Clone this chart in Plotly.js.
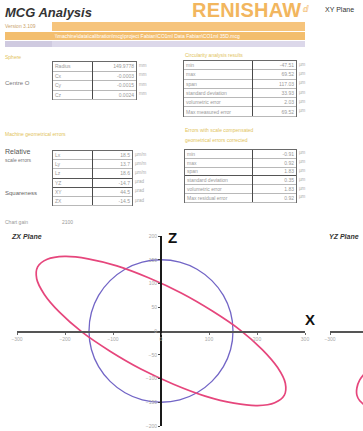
<!DOCTYPE html>
<html>
<head>
<meta charset="utf-8">
<script src="https://cdn.plot.ly/plotly-3.0.1.min.js"></script>
<style>
  html, body { margin: 0; padding: 0; background: #fff; overflow: hidden; width: 363px; height: 431px; }
  body { position: relative; font-family: "Liberation Sans", Arial, sans-serif; }
  .abs { position: absolute; white-space: nowrap; }
  .sec { font-size: 5px; color: #e2c35a; }
  .tbl { position: absolute; border: 1px solid #6a6a6a; box-sizing: border-box; background: #fff; }
  .row { position: absolute; left: 0; right: 0; border-bottom: 1px solid #b8b8b8; box-sizing: border-box; font-size: 5px; color: #9a9a9a; }
  .row.thick { border-bottom: 1.5px solid #555; }
  .row span { position: absolute; top: 50%; transform: translateY(-50%); }
  .div { position: absolute; top: 0; bottom: 0; width: 1px; background: #4a4a4a; }
  .unit { position: absolute; font-size: 4.5px; color: #aaa; }
  #plot { position: absolute; left: 0; top: 225px; width: 363px; height: 206px; overflow: hidden; }
</style>
</head>
<body>
<div class="abs" style="left:5px;top:5px;font-size:13px;font-weight:bold;font-style:italic;color:#333;">MCG Analysis</div>
<div class="abs" style="left:192px;top:-1px;font-size:20px;font-weight:bold;color:#f2b65e;letter-spacing:0.2px;">RENISHAW</div>
<div class="abs" style="left:303px;top:2px;font-size:9px;color:#f2b65e;">ⅆ</div>
<div class="abs" style="left:325px;top:6px;font-size:7px;color:#333;">XY Plane</div>
<div class="abs" style="left:5px;top:23px;font-size:5px;color:#caa46a;">Version 3.109</div>
<div class="abs" style="left:52px;top:22px;width:253px;height:9px;background:#f6c47c;"></div>
<div class="abs" style="left:5px;top:32px;width:300px;height:8px;background:#f3be6e;"></div>
<div class="abs" style="left:55px;top:33px;font-size:5px;color:#fff;">\\machine\data\calibration\mcg\project Fabian\CO1ml Data Fabian\CO1ml 35D.mcg</div>
<div class="abs" style="left:5px;top:41px;width:300px;height:6px;background:#dcd8ea;"></div>
<div class="abs" style="left:5px;top:41px;width:47px;height:6px;background:#cfcae0;"></div>

<div class="abs sec" style="left:5px;top:54px;">Sphere</div>
<div class="abs sec" style="left:185px;top:52px;">Circularity analysis results</div>
<div class="abs" style="left:5px;top:80px;font-size:6px;color:#777;">Centre O</div>

<div class="abs sec" style="left:5px;top:131px;">Machine geometrical errors</div>
<div class="abs sec" style="left:185px;top:127px;">Errors with scale compensated</div>
<div class="abs sec" style="left:185px;top:137px;">geometrical errors corrected</div>
<div class="abs" style="left:5px;top:148px;font-size:7px;color:#555;">Relative</div>
<div class="abs" style="left:5px;top:157px;font-size:5px;color:#777;">scale errors</div>
<div class="abs" style="left:5px;top:190px;font-size:6px;color:#666;">Squareness</div>

<div class="abs" style="left:5px;top:219px;font-size:5px;color:#999;">Chart gain</div>
<div class="abs" style="left:62px;top:219px;font-size:5px;color:#999;">2100</div>
<div class="abs" style="left:12px;top:233px;font-size:7px;font-weight:bold;font-style:italic;color:#333;">ZX Plane</div>
<div class="abs" style="left:329px;top:233px;font-size:7px;font-weight:bold;font-style:italic;color:#333;">YZ Plane</div>

<div id="tables"></div>
<div id="plot"><div id="fig"></div></div>

<script>
// Sphere fit
const sphereLabels = ["Radius", "Cx", "Cy", "Cz"];
const sphereValues = ["149.9778", "-0.0003", "-0.0015", "0.0024"];
const sphereUnits  = ["mm", "mm", "mm", "mm"];

// Circularity results
const circLabels = ["min", "max", "span", "standard deviation", "volumetric error", "Max measured error"];
const circValues = ["-47.51", "69.52", "117.03", "33.93", "2.03", "69.52"];
const circUnits  = ["µm", "µm", "µm", "µm", "µm", "µm"];

// Machine geometry
const geoLabels = ["Lx", "Ly", "Lz", "YZ", "XY", "ZX"];
const geoValues = ["18.5", "13.7", "18.6", "-14.7", "44.5", "-14.5"];
const geoUnits  = ["µm/m", "µm/m", "µm/m", "µrad", "µrad", "µrad"];

// Residuals after correction
const resLabels = ["min", "max", "span", "standard deviation", "volumetric error", "Max residual error"];
const resValues = ["-0.91", "0.92", "1.83", "0.35", "1.83", "0.92"];
const resUnits  = ["µm", "µm", "µm", "µm", "µm", "µm"];

// ZX plane: reference circle (blue) and error trace (red)
const circleX = [150, 145, 130, 106, 75, 39, 0, -39, -75, -106, -130, -145, -150, -145, -130, -106, -75, -39, 0, 39, 75, 106, 130, 145, 150];
const circleZ = [0, 39, 75, 106, 130, 145, 150, 145, 130, 106, 75, 39, 0, -39, -75, -106, -130, -145, -150, -145, -130, -106, -75, -39, 0];
const ellipseX = [257, 259, 243, 211, 165, 107, 42, -26, -92, -152, -201, -237, -257, -259, -243, -211, -165, -107, -42, 26, 92, 152, 201, 237, 257];
const ellipseZ = [-135, -110, -77, -39, 2, 42, 80, 112, 137, 152, 157, 151, 135, 110, 77, 39, -2, -42, -80, -112, -137, -152, -157, -151, -135];

// YZ plane (next panel, partly visible)
const yzArcX = [-225, -238, -244, -244, -238, -225];
const yzArcZ = [-86, -103, -120, -135, -147, -158];

const xTicks = [-300, -200, -100, 0, 100, 200, 300];
const zTicks = [-200, -150, -100, -50, 0, 50, 100, 150, 200];
const yzTicks = [-300];

function buildTable(left, top, width, rowH, splitX, labels, values, units, thickRows) {
  const t = document.createElement('div');
  t.className = 'tbl';
  t.style.left = left + 'px';
  t.style.top = top + 'px';
  t.style.width = width + 'px';
  t.style.height = (rowH * labels.length + 1) + 'px';
  labels.forEach((lab, i) => {
    const r = document.createElement('div');
    r.className = 'row' + (thickRows.includes(i) ? ' thick' : '');
    r.style.top = (i * rowH) + 'px';
    r.style.height = rowH + 'px';
    const a = document.createElement('span');
    a.style.left = '2px';
    a.textContent = lab;
    const b = document.createElement('span');
    b.style.right = '2px';
    b.textContent = values[i];
    r.appendChild(a); r.appendChild(b);
    t.appendChild(r);
    const u = document.createElement('div');
    u.className = 'unit';
    u.style.left = (left + width + 2) + 'px';
    u.style.top = (top + i * rowH + rowH / 2 - 3) + 'px';
    u.textContent = units[i];
    document.getElementById('tables').appendChild(u);
  });
  const d = document.createElement('div');
  d.className = 'div';
  d.style.left = splitX + 'px';
  t.appendChild(d);
  document.getElementById('tables').appendChild(t);
}

buildTable(52, 61, 85, 9.5, 39, sphereLabels, sphereValues, sphereUnits, []);
buildTable(183, 60, 114, 9.3, 68, circLabels, circValues, circUnits, []);
buildTable(52, 150, 81, 9.2, 39, geoLabels, geoValues, geoUnits, [2, 3]);
buildTable(184, 149, 113, 8.8, 67, resLabels, resValues, resUnits, [2]);

// Plot area spans x 17..618 px inside a 640 px wide figure (clipped to the page)
const W = 640, L = 17, R = 22;
const pw = W - L - R;
const dom1 = [0, (305 - L) / pw];
const dom2 = [(330 - L) / pw, 1];

const axisX = (domain, ticks) => ({
  domain: domain, range: [-300, 300], anchor: 'free', position: 0.5,
  showline: true, linecolor: '#555', linewidth: 1.5,
  ticks: 'outside', ticklen: 2, tickcolor: '#666', tickwidth: 1,
  tickvals: ticks, tickfont: { size: 5, color: '#a8a8a8', family: 'Liberation Sans' },
  showgrid: false, zeroline: false, fixedrange: true
});
const axisZ = (pos, labels) => ({
  domain: [0, 1], range: [-200, 200], anchor: 'free', position: pos,
  showline: true, linecolor: '#1a1a1a', linewidth: 2,
  ticks: 'outside', ticklen: 2, tickcolor: '#444', tickwidth: 1,
  tickvals: zTicks, showticklabels: labels,
  tickfont: { size: 5, color: '#a8a8a8', family: 'Liberation Sans' },
  showgrid: false, zeroline: false, fixedrange: true
});

const traces = [
  { x: circleX, y: circleZ, xaxis: 'x', yaxis: 'y', mode: 'lines',
    line: { color: '#7265c6', width: 1.3, shape: 'spline', smoothing: 1 }, hoverinfo: 'skip' },
  { x: ellipseX, y: ellipseZ, xaxis: 'x', yaxis: 'y', mode: 'lines',
    line: { color: '#e6467c', width: 1.7, shape: 'spline', smoothing: 1 }, hoverinfo: 'skip' },
  { x: yzArcX, y: yzArcZ, xaxis: 'x2', yaxis: 'y2', mode: 'lines',
    line: { color: '#e6467c', width: 1.7, shape: 'spline', smoothing: 1 }, hoverinfo: 'skip' }
];

const layout = {
  width: W, height: 206,
  margin: { l: L, r: R, t: 11, b: 5, pad: 0 },
  paper_bgcolor: 'rgba(0,0,0,0)', plot_bgcolor: 'rgba(0,0,0,0)',
  showlegend: false,
  xaxis: axisX(dom1, xTicks),
  yaxis: axisZ((dom1[0] + dom1[1]) / 2, true),
  xaxis2: axisX(dom2, yzTicks),
  yaxis2: axisZ((dom2[0] + dom2[1]) / 2, false),
  annotations: [
    { xref: 'x', yref: 'y', x: 10, y: 196, text: '<b>Z</b>', showarrow: false,
      xanchor: 'left', yanchor: 'middle', font: { size: 15, color: '#111', family: 'Liberation Sans' } },
    { xref: 'x', yref: 'y', x: 296, y: 24, text: '<b>X</b>', showarrow: false,
      xanchor: 'left', yanchor: 'middle', font: { size: 15, color: '#111', family: 'Liberation Sans' } }
  ]
};

Plotly.newPlot('fig', traces, layout, { staticPlot: true, displayModeBar: false });
</script>
</body>
</html>
